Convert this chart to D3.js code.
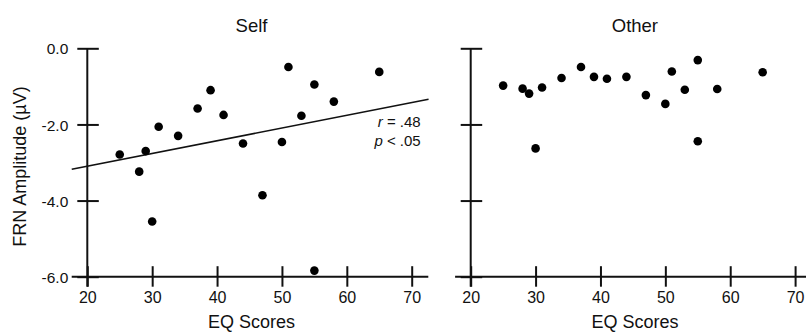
<!DOCTYPE html>
<html><head><meta charset="utf-8">
<script src="https://cdn.jsdelivr.net/npm/d3@7"></script>
<style>
body{margin:0;background:#fff}
svg{display:block}
text{font-family:"Liberation Sans",Arial,Helvetica,sans-serif;fill:#111}
</style>
</head><body>
<svg id="chart" width="806" height="333"></svg>
<script>
// ---- data ----
const eqScores = [25,28,29,30,31,34,37,39,41,44,47,50,51,53,55,55,58,65];
const selfFRN  = [-2.79,-3.24,-2.70,-4.55,-2.06,-2.30,-1.58,-1.10,-1.75,-2.50,-3.86,-2.46,-0.49,-1.77,-0.95,-5.84,-1.40,-0.62];
const otherFRN = [-0.98,-1.06,-1.19,-2.63,-1.03,-0.78,-0.49,-0.75,-0.80,-0.75,-1.23,-1.46,-0.61,-1.09,-0.31,-2.44,-1.07,-0.63];
const panelTitles = ["Self","Other"];
const xTicks = [20,30,40,50,60,70];
const yTicks = [0,-2,-4,-6];
const yTickLabels = ["0.0","-2.0","-4.0","-6.0"];
const fitRange = [17.6, 72.6];
const statsText = ["r = .48","p < .05"];

// ---- layout ----
const svg = d3.select("#chart");
const yScale = d3.scaleLinear().domain([-6,0]).range([276.7,48.3]);
const panels = [
  {title:panelTitles[0], values:selfFRN, x0:87.3, labels:true, fit:true},
  {title:panelTitles[1], values:otherFRN, x0:470.7, labels:false, fit:false}
];
const W = 324.4;
const font = '"Liberation Sans",Arial,Helvetica,sans-serif';

function linReg(xs, ys){
  const mx = d3.mean(xs), my = d3.mean(ys);
  let sxy=0, sxx=0;
  xs.forEach((x,i)=>{sxy+=(x-mx)*(ys[i]-my); sxx+=(x-mx)*(x-mx);});
  const b = sxy/sxx; return {a: my-b*mx, b};
}

panels.forEach(p=>{
  const x = d3.scaleLinear().domain([20,70]).range([p.x0, p.x0+W]);
  const g = svg.append("g");

  // x axis line
  g.append("line").attr("x1", x(20)-15.6).attr("x2", x(70)+16.6)
    .attr("y1", yScale(-6)).attr("y2", yScale(-6))
    .style("stroke","#111").style("stroke-width",2);
  // x ticks via d3 axis
  const xa = g.append("g").attr("transform",`translate(0,${yScale(-6)})`)
    .call(d3.axisBottom(x).tickValues(xTicks).tickFormat(d3.format("d")));
  xa.select(".domain").remove();
  xa.selectAll(".tick line").attr("y1",-10.5).attr("y2",10).style("stroke","#111").style("stroke-width",2);
  xa.selectAll(".tick text").attr("y",26.6).attr("dy",null)
    .style("font-family",font).style("font-size","16px").style("fill","#111");

  // y axis line
  g.append("line").attr("x1", x(20)).attr("x2", x(20))
    .attr("y1", yScale(0)).attr("y2", yScale(-6)+10)
    .style("stroke","#111").style("stroke-width",2);
  const ya = g.append("g").attr("transform",`translate(${x(20)},0)`)
    .call(d3.axisLeft(yScale).tickValues(yTicks).tickFormat((d,i)=>p.labels?yTickLabels[i]:""));
  ya.select(".domain").remove();
  ya.selectAll(".tick line").attr("x1",-10).attr("x2",11.5).style("stroke","#111").style("stroke-width",2);
  ya.selectAll(".tick text").attr("x",-19).attr("dy","0.36em")
    .style("font-family",font).style("font-size","15.5px").style("fill","#111");

  // regression line
  if(p.fit){
    const r = linReg(eqScores, p.values);
    g.append("line")
      .attr("x1", x(fitRange[0])).attr("y1", yScale(r.a + r.b*fitRange[0]))
      .attr("x2", x(fitRange[1])).attr("y2", yScale(r.a + r.b*fitRange[1]))
      .style("stroke","#111").style("stroke-width",1.6);
    const t = g.append("g").style("font-size","15px").attr("text-anchor","end");
    statsText.forEach((s,i)=>{
      const parts = s.split(" ");
      const tx = t.append("text").attr("x", x(70)+9).attr("y", 127.3 + i*18.4);
      tx.append("tspan").attr("font-style","italic").text(parts[0]);
      tx.append("tspan").text(" " + parts.slice(1).join(" "));
    });
  }

  // points
  g.selectAll("circle.pt").data(eqScores.map((e,i)=>[e,p.values[i]])).join("circle")
    .attr("class","pt").attr("cx",d=>x(d[0])).attr("cy",d=>yScale(d[1]))
    .attr("r",4.3).attr("fill","#000");

  // titles
  g.append("text").attr("x", (x(20)+x(70))/2+2).attr("y",31.5).attr("text-anchor","middle")
    .style("font-size","18.5px").text(p.title);
  g.append("text").attr("x", (x(20)+x(70))/2+2).attr("y",328).attr("text-anchor","middle")
    .style("font-size","18px").text("EQ Scores");
});

// y axis label
svg.append("text").attr("transform","translate(26,166.5) rotate(-90)")
  .attr("text-anchor","middle").style("font-size","18px").text("FRN Amplitude (\u00b5V)");
</script>
</body></html>
